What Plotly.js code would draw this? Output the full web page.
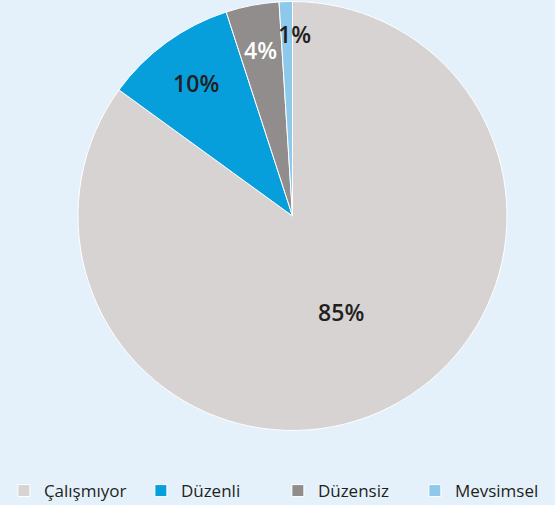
<!DOCTYPE html>
<html>
<head>
<meta charset="utf-8">
<script src="https://cdn.plot.ly/plotly-3.0.1.min.js"></script>
<style>html,body{margin:0;padding:0;background:#e5f1fa;}#chart{width:555px;height:505px;}</style>
</head>
<body>
<div id="chart"></div>
<script>
const categories = ['Çalışmıyor', 'Düzenli', 'Düzensiz', 'Mevsimsel'];
const values = [85, 10, 4, 1];
const colors = ['#d7d3d2', '#069fdc', '#918d8c', '#8ec8ea'];
const textColors = ['#231f20', '#231f20', '#ffffff', '#231f20'];

// styling: narrow slices get their label as an annotation at this fraction of the radius
const labelRadius = [null, null, 0.79, 0.85];
const labelShift = [0, 0, 0, 8];

const W = 555, H = 505;
const domX = [78 / W, 507 / W];
const domY = [1 - 431 / H, 1 - 1 / H];
const labelFont = {family: 'Open Sans, Noto Sans, sans-serif', size: 23, weight: 600};

const total = values.reduce((a, b) => a + b, 0);
const templates = values.map((v, i) => labelRadius[i] ? '' : '%{percent:.0%}');

const cx = (domX[0] + domX[1]) / 2, cy = (domY[0] + domY[1]) / 2;
const rPx = Math.min((domX[1] - domX[0]) * W, (domY[1] - domY[0]) * H) / 2;
const annotations = [];
let cum = 0;
values.forEach((v, i) => {
  const mid = (cum + v / 2) / total * 2 * Math.PI; // clockwise from top
  cum += v;
  if (!labelRadius[i]) return;
  const r = labelRadius[i] * rPx;
  annotations.push({
    xref: 'paper', yref: 'paper',
    x: cx + r * Math.sin(mid) / W,
    y: cy + r * Math.cos(mid) / H,
    xshift: labelShift[i],
    text: Math.round(v / total * 100) + '%',
    showarrow: false, xanchor: 'center', yanchor: 'middle',
    font: Object.assign({color: textColors[i]}, labelFont)
  });
});

const trace = {
  type: 'pie',
  labels: categories,
  values: values,
  sort: false,
  direction: 'clockwise',
  rotation: 0,
  marker: {colors: colors, line: {color: '#ffffff', width: 1}},
  texttemplate: templates,
  textposition: 'inside',
  insidetextorientation: 'horizontal',
  textfont: Object.assign({color: textColors}, labelFont),
  hoverinfo: 'label+percent',
  domain: {x: domX, y: domY}
};

const layout = {
  width: W, height: H,
  margin: {l: 0, r: 0, t: 0, b: 0, autoexpand: false},
  paper_bgcolor: '#e5f1fa',
  plot_bgcolor: '#e5f1fa',
  showlegend: true,
  legend: {
    orientation: 'h', x: 0.007, xanchor: 'left', y: -0.008, yanchor: 'bottom',
    font: {family: 'Open Sans, Noto Sans, sans-serif', size: 17, color: '#231f20'},
    entrywidth: 92, entrywidthmode: 'pixels', traceorder: 'normal'
  },
  annotations: annotations,
  uniformtext: {mode: 'show', minsize: 23}
};

Plotly.newPlot('chart', [trace], layout, {displayModeBar: false, staticPlot: true});
</script>
</body>
</html>
